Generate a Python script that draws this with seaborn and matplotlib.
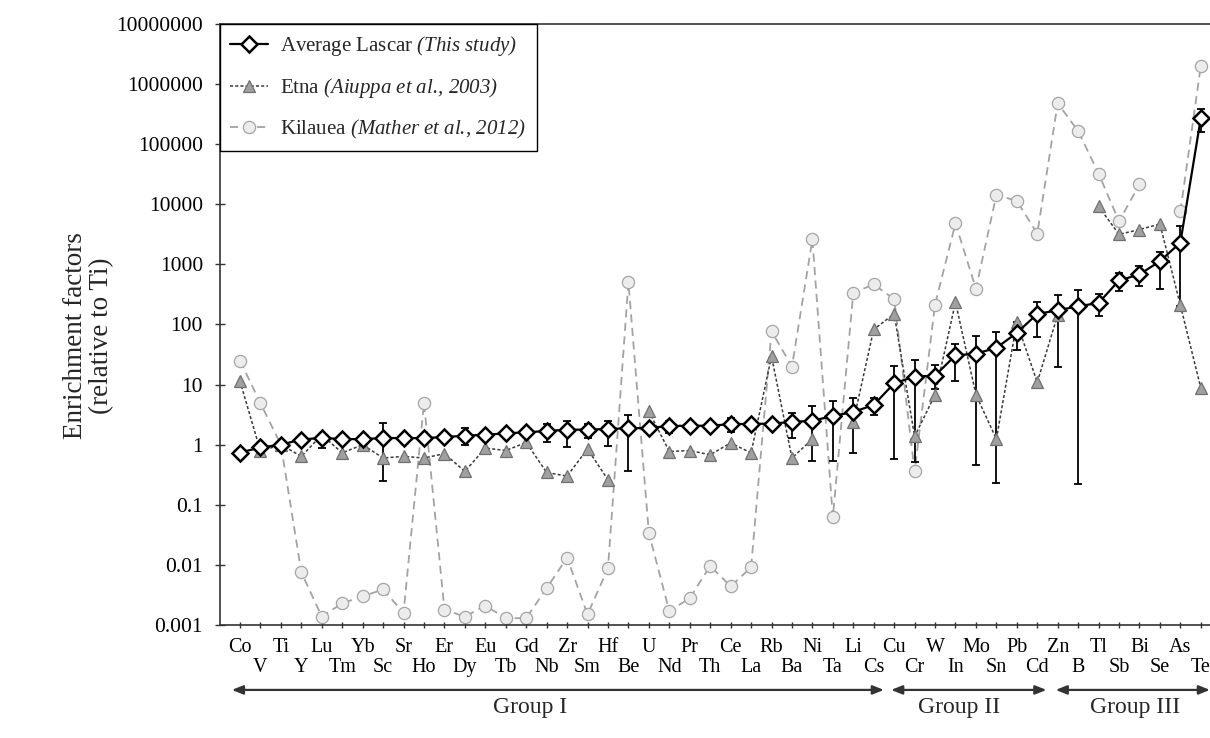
import numpy as np
import pandas as pd
import matplotlib
matplotlib.use("Agg")
import matplotlib.pyplot as plt
from matplotlib.lines import Line2D
from matplotlib.ticker import FixedLocator, FixedFormatter, NullLocator
import seaborn as sns

# ---------------------------------------------------------------- data
elements = ["Co", "V", "Ti", "Y", "Lu", "Tm", "Yb", "Sc", "Sr", "Ho", "Er", "Dy",
            "Eu", "Tb", "Gd", "Nb", "Zr", "Sm", "Hf", "Be", "U", "Nd", "Pr", "Th",
            "Ce", "La", "Rb", "Ba", "Ni", "Ta", "Li", "Cs", "Cu", "Cr", "W", "In",
            "Mo", "Sn", "Pb", "Cd", "Zn", "B", "Tl", "Sb", "Bi", "Se", "As", "Te"]

# Average Lascar enrichment factors with lower / upper error limits
lascar = [0.74, 0.9, 1.0, 1.22, 1.3, 1.24, 1.24, 1.29, 1.29, 1.29, 1.34, 1.41,
          1.47, 1.54, 1.61, 1.69, 1.78, 1.78, 1.83, 1.88, 1.9, 2.05, 2.07, 2.07,
          2.2, 2.22, 2.24, 2.4, 2.5, 3.0, 3.5, 4.6, 10.5, 13.6, 14.1, 30.6,
          32.7, 40.9, 72.5, 150, 172, 201, 228, 540, 681, 1130, 2300, 271000]
lascar_low = [0.74, 0.72, 1.0, 1.22, 0.88, 1.24, 1.24, 0.25, 1.29, 1.29, 1.34, 1.0,
              1.47, 1.54, 1.61, 1.13, 0.91, 1.29, 0.94, 0.37, 1.9, 1.57, 2.07, 2.07,
              1.6, 2.22, 2.24, 1.29, 0.53, 0.53, 0.73, 3.16, 0.58, 0.51, 8.5, 11.4,
              0.46, 0.235, 38, 62, 19.7, 0.22, 136, 358, 430, 393, 200, 162000]
lascar_high = [0.74, 0.9, 1.0, 1.22, 1.5, 1.24, 1.24, 2.3, 1.29, 1.29, 1.34, 1.9,
               1.47, 1.54, 1.61, 2.2, 2.45, 2.2, 2.45, 3.16, 1.9, 2.5, 2.07, 2.07,
               2.8, 2.22, 2.24, 3.37, 4.35, 5.3, 5.9, 6.1, 20.3, 25.4, 21, 48,
               64, 74, 110, 236, 307, 380, 316, 724, 934, 1600, 4300, 383000]

# Etna (Aiuppa et al., 2003); NaN = not reported
etna = [11.4, 0.78, 1.0, 0.64, 1.45, 0.73, 1.0, 0.6, 0.64, 0.6, 0.71, 0.36,
        0.88, 0.8, 1.09, 0.345, 0.30, 0.85, 0.26, np.nan, 3.6, 0.77, 0.8, 0.68,
        1.07, 0.73, 29.6, 0.6, 1.24, np.nan, 2.4, 83, 150, 1.37, 6.8, 236,
        6.8, 1.24, 108, 10.9, 145, np.nan, 9200, 3160, 3800, 4700, 210, 8.8]

# Kilauea (Mather et al., 2012); NaN = not reported
kilauea = [25, 4.9, 1.0, 0.0075, 0.00138, 0.0023, 0.003, 0.0039, 0.0016, 5.0, 0.0018, 0.00138,
           0.0021, 0.0013, 0.0013, 0.0041, 0.0132, 0.0015, 0.0088, 507, 0.034, 0.0017, 0.0028, 0.0096,
           0.0044, 0.0091, 77, 20, 2600, 0.062, 337, 464, 264, 0.36, 215, 4800,
           393, 14300, 11400, 3250, 480000, 165000, 32500, 5200, 21500, np.nan, 7600, 2000000]

groups = ["Group I", "Group II", "Group III"]
group_bounds = [(-0.4, 31.5), (31.85, 39.45), (39.9, 47.45)]
group_label_x = [14.2, 35.2, 43.8]

y_ticks = [10.0 ** k for k in range(-3, 8)]
y_tick_labels = ["0.001", "0.01", "0.1", "1", "10", "100", "1000", "10000",
                 "100000", "1000000", "10000000"]

# ---------------------------------------------------------------- style
sns.set_theme(style="ticks")
plt.rcParams["font.family"] = ["Liberation Serif", "DejaVu Serif"]
# math text is only used for the italic citations in the legend
plt.rcParams["mathtext.fontset"] = "custom"
plt.rcParams["mathtext.rm"] = "Liberation Serif:italic"
plt.rcParams["mathtext.it"] = "Liberation Serif:italic"

pos = np.arange(len(elements))


def frame(values):
    v = np.asarray(values, dtype=float)
    # running segment id so that gaps (NaN) break the line
    return pd.DataFrame({"pos": pos, "val": v,
                         "seg": np.cumsum(np.isnan(v))}).dropna()


fig = plt.figure(figsize=(12.1, 7.38), dpi=100)
ax = fig.add_axes([0.1818, 0.1531, 0.8182, 0.8144])
ax.set_yscale("log")

k_style = dict(color="#a3a3a3", lw=1.3, linestyle=(0, (4.5, 3.0)),
               marker="o", markersize=8.8, markerfacecolor="#ececec",
               markeredgecolor="#a5a5a5", markeredgewidth=0.9)
e_style = dict(color="#3a3a3a", lw=1.1, linestyle=(0, (2.0, 1.4)),
               marker="^", markersize=8.6, markerfacecolor="#a0a0a0",
               markeredgecolor="#707070", markeredgewidth=0.9)
l_style = dict(color="black", lw=1.6, linestyle="-",
               marker="D", markersize=7.8, markerfacecolor="white",
               markeredgecolor="black", markeredgewidth=1.8)

sns.lineplot(data=frame(kilauea), x="pos", y="val", units="seg", estimator=None,
             ax=ax, zorder=2, **k_style)

lv = np.asarray(lascar)
yerr = np.vstack([lv - np.asarray(lascar_low), np.asarray(lascar_high) - lv])
ax.errorbar(pos, lv, yerr=yerr, fmt="none", ecolor="black", elinewidth=1.3,
            capsize=2.8, capthick=1.3, zorder=2.5)

sns.lineplot(data=frame(etna), x="pos", y="val", units="seg", estimator=None,
             ax=ax, zorder=3, **e_style)
sns.lineplot(data=frame(lascar), x="pos", y="val", units="seg", estimator=None,
             ax=ax, zorder=4, **l_style)

# ---------------------------------------------------------------- axes
ax.set_ylim(1e-3, 1e7)
ax.set_xlim(-0.98, 47.45)
ax.yaxis.set_major_locator(FixedLocator(y_ticks))
ax.yaxis.set_major_formatter(FixedFormatter(y_tick_labels))
ax.yaxis.set_minor_locator(NullLocator())

ax.set_xticks(pos[::2])
ax.set_xticklabels(elements[::2])
ax.set_xticks(pos[1::2], minor=True)
ax.set_xticklabels(elements[1::2], minor=True)

spine_c = "#333333"
for side in ("left", "bottom", "top"):
    ax.spines[side].set_color(spine_c)
    ax.spines[side].set_linewidth(1.2)
ax.spines["right"].set_visible(False)

ax.tick_params(axis="x", which="both", direction="inout", length=5, width=1.0,
               color=spine_c, labelsize=14.5, labelcolor="black")
ax.tick_params(axis="x", which="major", pad=6.6)
ax.tick_params(axis="x", which="minor", pad=21.0)
ax.tick_params(axis="y", which="major", direction="inout", length=6.5, width=1.0,
               color=spine_c, labelsize=15.5, pad=9, labelcolor="black")

ax.set_xlabel("")
ax.set_ylabel("Enrichment factors\n(relative to Ti)", fontsize=19.5,
              linespacing=1.05, va="center", ha="center")
ax.yaxis.set_label_coords(-0.133, 0.481)

# ---------------------------------------------------------------- groups
xt = ax.get_xaxis_transform()
for (x0, x1), name, xl in zip(group_bounds, groups, group_label_x):
    ax.annotate("", xy=(x1, -0.108), xytext=(x0, -0.108), xycoords=xt,
                textcoords=xt, annotation_clip=False,
                arrowprops=dict(arrowstyle="<|-|>,head_length=0.55,head_width=0.22",
                                color="#333333", lw=1.6, shrinkA=0, shrinkB=0,
                                mutation_scale=12))
    ax.text(xl, -0.1365, name, transform=xt, ha="center", va="center",
            fontsize=17, clip_on=False)

# ---------------------------------------------------------------- legend
handles = [
    Line2D([], [], **l_style),
    Line2D([], [], **e_style),
    Line2D([], [], **k_style),
]
labels = [
    r"Average Lascar $\mathit{(This\ study)}$",
    r"Etna $\mathit{(Aiuppa\ et\ al.\!{,}\ 2003)}$",
    r"Kilauea $\mathit{(Mather\ et\ al.\!{,}\ 2012)}$",
]
leg = ax.legend(handles, labels, loc="upper left", bbox_to_anchor=(0, 1),
                borderaxespad=0, frameon=True, fancybox=False, edgecolor="black",
                framealpha=1, fontsize=15, handlelength=1.8, handletextpad=0.6,
                labelspacing=0.85, borderpad=0.5)
leg.get_frame().set_linewidth(1.0)
leg.set_zorder(10)

fig.savefig("out.png", dpi=100)
